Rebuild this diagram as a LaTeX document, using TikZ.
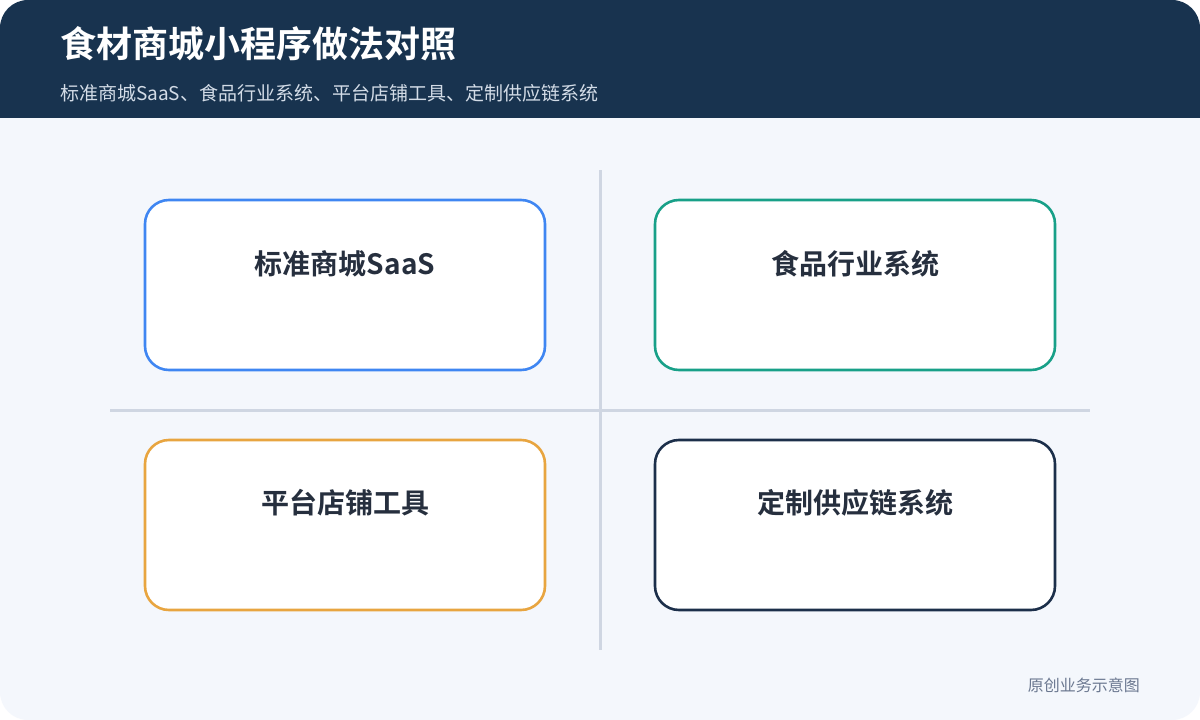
\documentclass[tikz,border=0pt]{standalone}
\usepackage{fontspec}
\newfontfamily\cjk{Noto Sans CJK SC}
\newfontfamily\cjkb{Noto Sans CJK SC Bold}
\definecolor{hdr}{HTML}{18334F}
\definecolor{bg}{HTML}{F4F7FC}
\definecolor{sep}{HTML}{CFD6E2}
\definecolor{cblue}{HTML}{3F86F2}
\definecolor{cgreen}{HTML}{18A088}
\definecolor{corange}{HTML}{E8A540}
\definecolor{cnavy}{HTML}{1C2F4A}
\definecolor{labtxt}{HTML}{262F3E}
\definecolor{subtxt}{HTML}{D3DCE7}
\definecolor{foot}{HTML}{6B7890}
\tikzset{
  card/.style={draw, line width=2.6pt, fill=white, rounded corners=24pt, minimum width=400pt, minimum height=170pt, inner sep=0pt},
  cardlabel/.style={font=\cjkb\fontsize{28}{32}\selectfont, text=labtxt, anchor=center},
  sepline/.style={draw=sep, line width=3pt}
}
\begin{document}
\begin{tikzpicture}[x=1pt,y=-1pt]
\useasboundingbox (0,0) rectangle (1200,720);
\fill[white] (0,0) rectangle (1200,720);
\begin{scope}
\clip[rounded corners=28pt] (0,0) rectangle (1200,720);
\fill[bg] (0,0) rectangle (1200,720);
\fill[hdr] (0,0) rectangle (1200,118);
\end{scope}
\node[anchor=west, text=white, font=\cjkb\fontsize{36}{40}\selectfont, inner sep=0pt] (title) at (60,44) {食材商城小程序做法对照};
\node[anchor=west, text=subtxt, font=\cjk\fontsize{19}{22}\selectfont, inner sep=0pt] (sub) at (60,93) {标准商城SaaS、食品行业系统、平台店铺工具、定制供应链系统};
\coordinate (vt) at (600,170); \coordinate (vb) at (600,650);
\coordinate (hl) at (110,410); \coordinate (hr) at (1090,410);
\draw[sepline] (vt) -- (vb);
\draw[sepline] (hl) -- (hr);
\node[card, draw=cblue] (b1) at (345,285) {};
\node[card, draw=cgreen] (b2) at (855,285) {};
\node[card, draw=corange] (b3) at (345,525) {};
\node[card, draw=cnavy] (b4) at (855,525) {};
\node[cardlabel] (l1) at (345,264) {标准商城SaaS};
\node[cardlabel] (l2) at (855,264) {食品行业系统};
\node[cardlabel] (l3) at (345,503) {平台店铺工具};
\node[cardlabel] (l4) at (855,503) {定制供应链系统};
\node[anchor=east, text=foot, font=\cjk\fontsize{16}{19}\selectfont, inner sep=0pt] (ft) at (1140,685) {原创业务示意图};
\end{tikzpicture}
\end{document}
